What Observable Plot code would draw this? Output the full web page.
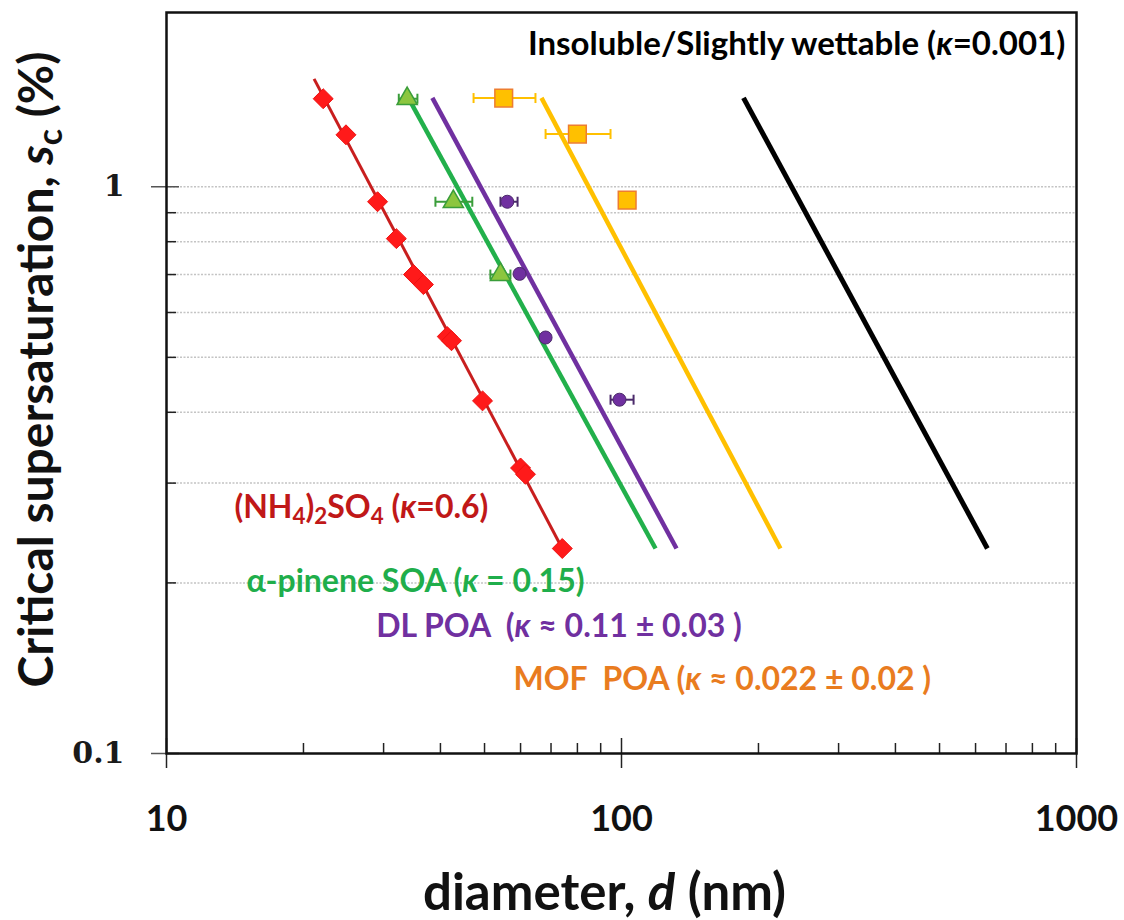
<!DOCTYPE html>
<html><head><meta charset="utf-8">
<script src="https://cdn.jsdelivr.net/npm/d3@7"></script>
<script src="https://cdn.jsdelivr.net/npm/@observablehq/plot@0.6"></script>
<style>body{margin:0;background:#fff} svg text{white-space:pre}</style>
</head><body><div id="chart"></div>
<script>
// ---- data (diameter in nm, critical supersaturation in %) ----
const ammSulfD = [22.1, 24.8, 29.1, 32.0, 34.9, 36.7, 41.4, 42.3, 49.5, 60.0, 61.5, 74.1];
const ammSulfS = [1.43, 1.235, 0.941, 0.81, 0.70, 0.672, 0.544, 0.535, 0.419, 0.319, 0.311, 0.23];

const pineneD   = [33.8, 42.7, 54.2];
const pineneS   = [1.43, 0.941, 0.70];
const pineneDlo = [32.4, 39.0, 51.5];
const pineneDhi = [35.6, 47.0, 57.0];

const dlPoaD   = [56.1, 59.7, 68.1, 99.0];
const dlPoaS   = [0.941, 0.702, 0.542, 0.421];
const dlPoaDlo = [54.2, 59.7, 68.1, 94.6];
const dlPoaDhi = [59.1, 59.7, 68.1, 106.3];

const mofD   = [55.1, 80.0, 102.9];
const mofS   = [1.434, 1.239, 0.947];
const mofDlo = [47.3, 68.1, 102.9];
const mofDhi = [64.7, 94.6, 102.9];

// kappa-Köhler curves: end points
const curveName = ["(NH4)2SO4", "alpha-pinene SOA", "DL POA", "MOF POA", "Insoluble"];
const curveD1 = [21.1, 34.0, 38.4, 66.7, 185.4];
const curveS1 = [1.55, 1.435, 1.435, 1.435, 1.435];
const curveD2 = [74.1, 118.8, 132.1, 223.5, 637];
const curveS2 = [0.23, 0.23, 0.23, 0.23, 0.23];

// axes
const xMajor = [10, 100, 1000];
const xMinor = [20,30,40,50,60,70,80,90,200,300,400,500,600,700,800,900];
const yMajor = [0.1, 1];
const yMinor = [0.2,0.3,0.4,0.5,0.6,0.7,0.8,0.9];
const yGrid  = [0.2,0.3,0.4,0.5,0.6,0.7,0.8,0.9,1];
const xTitle = "diameter, *d* (nm)";
const yTitle = "Critical supersaturation, *s*_{c} (%)";

// annotations (markup: _{..} subscript, *..* italic)
const titleLabel = "Insoluble/Slightly wettable (*κ*=0.001)";
const titleLabelD = 945, titleLabelS = 1.78;
const labelText = [
  "(NH_{4})_{2}SO_{4} (*κ*=0.6)",
  "α-pinene SOA (*κ* = 0.15)",
  "DL POA  (*κ* ≈ 0.11 ± 0.03 )",
  "MOF  POA (*κ* ≈ 0.022 ± 0.02 )"
];
const labelD = [14.1, 15.0, 28.9, 57.9];
const labelS = [0.2716, 0.201, 0.1675, 0.1351];

// ---- styles ----
const curveColor = ["#c81e1e", "#22b04b", "#7030a0", "#ffc000", "#000000"];
const curveWidth = [3, 4.5, 4.5, 4.5, 5];
const labelColor = ["#c01818", "#1fae4b", "#7030a0", "#e97c1f"];

const zip = (xs, ys, lo, hi) => xs.map((d, i) => ({d, s: ys[i], lo: lo ? lo[i] : d, hi: hi ? hi[i] : d}));
const amm = zip(ammSulfD, ammSulfS);
const pin = zip(pineneD, pineneS, pineneDlo, pineneDhi);
const dl  = zip(dlPoaD, dlPoaS, dlPoaDlo, dlPoaDhi);
const mof = zip(mofD, mofS, mofDlo, mofDhi);
const curves = curveName.map((n, i) => ({n, i, d1: curveD1[i], s1: curveS1[i], d2: curveD2[i], s2: curveS2[i]}));
const labels = labelText.map((t, i) => ({t, i, d: labelD[i], s: labelS[i]}));

const cap = {draw(ctx, size) { const r = Math.sqrt(size / Math.PI); ctx.moveTo(0, -r); ctx.lineTo(0, r); }};
const errBars = (data, color) => {
  const e = data.filter(p => p.hi > p.lo);
  return [
    Plot.link(e, {x1: "lo", x2: "hi", y1: "s", y2: "s", stroke: color, strokeWidth: 2}),
    Plot.dot(e, {x: "lo", y: "s", symbol: cap, r: 5, stroke: color, strokeWidth: 2, fill: "none"}),
    Plot.dot(e, {x: "hi", y: "s", symbol: cap, r: 5, stroke: color, strokeWidth: 2, fill: "none"})
  ];
};

const W = 1124, H = 920, mL = 166, mR = 48, mT = 12, mB = 167;
const fw = W - mL - mR, fh = H - mT - mB;

const chart = Plot.plot({
  width: W, height: H,
  marginLeft: mL, marginRight: mR, marginTop: mT, marginBottom: mB,
  x: {type: "log", domain: [10, 1000], axis: null},
  y: {type: "log", domain: [0.1, 2.03], axis: null},
  style: {fontFamily: "Lato, 'Open Sans', sans-serif", background: "white", color: "#111", overflow: "visible"},
  marks: [
    Plot.ruleY(yGrid, {stroke: "#c4c4c4", strokeWidth: 1.5, strokeDasharray: "2,1.5"}),
    // ticks
    Plot.tickX(xMinor, {x: d => d, insetTop: fh - 10, stroke: "#222", strokeWidth: 1.5}),
    Plot.tickX(xMajor, {x: d => d, insetTop: fh - 15, insetBottom: -15, stroke: "#222", strokeWidth: 1.5}),
    Plot.tickY(yMinor, {y: d => d, insetRight: fw - 10, stroke: "#222", strokeWidth: 1.5}),
    Plot.tickY(yMajor, {y: d => d, insetRight: fw - 13, insetLeft: -15, stroke: "#555", strokeWidth: 1.5}),
    // tick labels
    Plot.text(xMajor, {x: d => d, frameAnchor: "bottom", lineAnchor: "middle", textAnchor: "middle", dy: 66, text: d => String(d), fontSize: 36, fontWeight: "bold", fill: "#111"}),
    Plot.text(yMajor, {y: d => d, frameAnchor: "left", lineAnchor: "middle", textAnchor: "end", dx: -42, text: d => String(d), fontSize: 30, fontWeight: "bold", fontFamily: "'DejaVu Serif', serif", fill: "#1a1a1a"}),
    // axis titles
    Plot.text([xTitle], {frameAnchor: "bottom", lineAnchor: "middle", textAnchor: "middle", dx: -17, dy: 140, text: d => d, fontSize: 51, fontWeight: "bold", fill: "#111"}),
    Plot.text([yTitle], {frameAnchor: "left", lineAnchor: "middle", textAnchor: "middle", rotate: -90, dx: -129, dy: -13.5, text: d => d, fontSize: 48, fontWeight: "bold", fill: "#111"}),
    // curves
    Plot.link(curves, {x1: "d1", y1: "s1", x2: "d2", y2: "s2", stroke: c => curveColor[c.i], strokeWidth: c => curveWidth[c.i]}),
    // error bars
    ...errBars(pin, "#3a9d3a"),
    ...errBars(dl, "#4b2a6b"),
    ...errBars(mof, "#ffc000"),
    // markers
    Plot.dot(amm, {x: "d", y: "s", symbol: "diamond2", r: 9, fill: "#ff1a1a", stroke: "#ee1111", strokeWidth: 1}),
    Plot.dot(pin, {x: "d", y: "s", symbol: "triangle", r: 7.5, fill: "#8cc63f", stroke: "#3a9d3a", strokeWidth: 1.5}),
    Plot.dot(dl, {x: "d", y: "s", symbol: "circle", r: 6.5, fill: "#7030a0", stroke: "#4b2a6b", strokeWidth: 1}),
    Plot.dot(mof, {x: "d", y: "s", symbol: "square", r: 10, fill: "#ffc000", stroke: "#ed7d31", strokeWidth: 1.5}),
    // labels
    Plot.text([titleLabel], {x: () => titleLabelD, y: () => titleLabelS, text: d => d, textAnchor: "end", lineAnchor: "middle", fill: "#000", fontSize: 33, fontWeight: "bold"}),
    Plot.text(labels, {x: "d", y: "s", text: "t", fill: l => labelColor[l.i], textAnchor: "start", lineAnchor: "middle", fontSize: 32, fontWeight: "bold"}),
    Plot.frame({stroke: "#111", strokeWidth: 2.5})
  ]
});

// convert markup in texts into tspans (subscripts, italics)
const NS = "http://www.w3.org/2000/svg";
chart.querySelectorAll("text").forEach(t => {
  const s = t.textContent;
  if (!/_\{|\*/.test(s)) return;
  const parts = s.split(/(_\{[^}]*\}|\*[^*]*\*)/).filter(p => p !== "");
  t.textContent = "";
  parts.forEach(p => {
    const ts = document.createElementNS(NS, "tspan");
    if (p.startsWith("_{")) {
      ts.textContent = p.slice(2, -1);
      ts.setAttribute("font-size", "70%");
      ts.setAttribute("baseline-shift", "-25%");
    } else if (p.startsWith("*")) {
      ts.textContent = p.slice(1, -1);
      ts.setAttribute("font-style", "italic");
    } else {
      ts.textContent = p;
    }
    t.appendChild(ts);
  });
});
document.getElementById("chart").appendChild(chart);
</script>
</body></html>
